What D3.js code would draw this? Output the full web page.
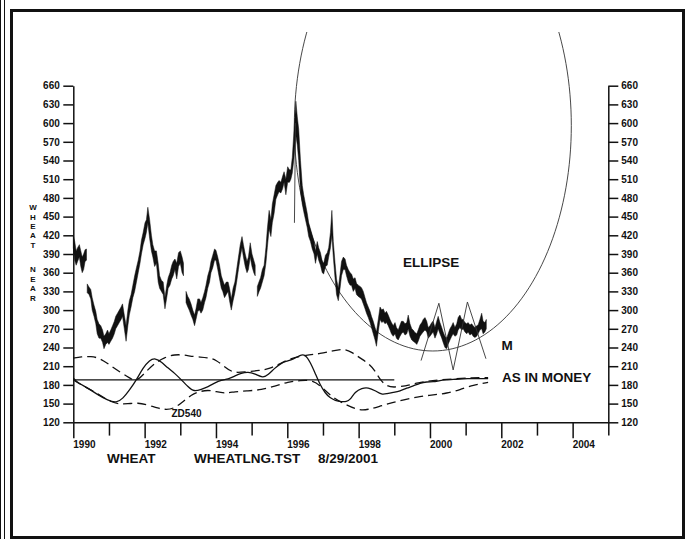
<!DOCTYPE html>
<html><head><meta charset="utf-8">
<script src="https://cdn.jsdelivr.net/npm/d3@7/dist/d3.min.js"></script>
<style>
html,body{margin:0;padding:0;background:#fff;}
svg{display:block;}
text{font-family:"Liberation Sans",Arial,Helvetica,sans-serif;fill:#111;}
</style></head>
<body>
<svg id="chart" width="690" height="539"></svg>
<script>
// ---------- DATA ----------
const yTicks = [120,150,180,210,240,270,300,330,360,390,420,450,480,510,540,570,600,630,660];
const yearTicks = [1990,1991,1992,1993,1994,1995,1996,1997,1998,1999,2000,2001,2002,2003,2004,2005];
const yearLabels = [1990,1992,1994,1996,1998,2000,2002,2004];

// wheat nearby futures, [decimal year, low, high], one array per contract stretch
const wheatSeg1 = [
 [1990.00,400,420],[1990.04,380,410],[1990.08,372,395],[1990.12,378,400],[1990.17,385,405],
 [1990.21,370,395],[1990.25,360,385],[1990.29,365,390],[1990.33,378,397],[1990.37,380,398]
];
const wheatSeg2 = [
 [1990.39,328,342],[1990.44,325,337],[1990.49,318,333],[1990.53,300,320],[1990.58,290,308],
 [1990.63,278,298],[1990.67,262,285],[1990.72,255,278],[1990.77,255,275],[1990.82,248,268],
 [1990.86,238,258],[1990.91,245,262],[1990.96,248,268],[1991.00,245,262],[1991.05,250,268],
 [1991.10,255,275],[1991.15,262,282],[1991.19,270,290],[1991.24,275,295],[1991.29,280,300],
 [1991.34,285,305],[1991.38,290,310],[1991.43,270,292],[1991.48,250,275],[1991.53,275,300],
 [1991.57,292,315],[1991.62,305,325],[1991.67,320,340],[1991.72,330,355],[1991.77,345,368],
 [1991.82,360,380],[1991.87,375,395],[1991.91,390,412],[1991.96,405,425],[1992.01,415,440],
 [1992.05,425,445],[1992.09,440,465],[1992.14,415,445],[1992.19,395,420],[1992.23,385,405],
 [1992.28,370,395],[1992.33,375,395],[1992.38,345,375],[1992.42,335,355],[1992.47,330,348],
 [1992.52,325,345],[1992.57,302,320],[1992.62,320,340],[1992.66,335,352],[1992.71,340,360],
 [1992.76,350,372],[1992.80,355,378],[1992.85,365,382],[1992.90,350,375],[1992.95,370,392],
 [1993.00,375,395],[1993.05,360,385],[1993.09,355,375]
];
const wheatSeg3 = [
 [1993.16,312,330],[1993.21,305,322],[1993.25,300,318],[1993.30,292,310],[1993.35,285,300],
 [1993.40,275,292],[1993.44,285,302],[1993.49,298,318],[1993.54,300,318],[1993.58,295,312],
 [1993.63,300,320],[1993.68,312,330],[1993.72,320,340],[1993.77,335,355],[1993.82,345,365],
 [1993.86,360,378],[1993.91,368,388],[1993.96,380,398],[1994.00,380,396],[1994.05,365,385],
 [1994.10,350,372],[1994.15,335,355],[1994.19,330,348],[1994.24,320,340],[1994.29,325,345],
 [1994.34,330,345],[1994.38,315,335],[1994.43,300,318],[1994.48,315,335],[1994.53,328,345],
 [1994.58,345,365],[1994.63,365,385],[1994.68,385,405],[1994.73,400,418],[1994.77,385,405],
 [1994.82,370,390],[1994.87,360,378],[1994.91,365,385],[1994.96,385,408],[1995.01,370,390],
 [1995.06,360,380],[1995.10,355,372]
];
const wheatSeg4 = [
 [1995.16,322,338],[1995.21,330,346],[1995.25,335,352],[1995.30,345,365],[1995.35,355,372],
 [1995.40,375,400],[1995.44,400,430],[1995.49,430,460],[1995.54,418,445],[1995.58,440,470],
 [1995.63,455,485],[1995.68,478,500],[1995.73,485,505],[1995.77,490,508],[1995.82,488,505],
 [1995.87,495,515],[1995.91,505,522],[1995.96,485,510],[1996.01,505,530],[1996.06,505,525],
 [1996.10,510,525],[1996.14,520,545],[1996.19,545,590],[1996.24,580,635],[1996.28,565,610],
 [1996.32,540,590],[1996.37,490,540],[1996.42,470,500],[1996.46,458,485],[1996.51,445,470],
 [1996.56,432,455],[1996.60,418,440],[1996.65,410,430],[1996.70,398,420],[1996.75,390,410],
 [1996.79,375,395],[1996.84,390,410],[1996.88,380,400],[1996.93,372,392],[1996.98,360,378],
 [1997.02,358,375],[1997.07,370,388],[1997.12,372,392],[1997.16,385,400],[1997.21,400,425],
 [1997.25,420,460],[1997.29,385,410],[1997.34,350,375],[1997.38,325,350],[1997.43,315,335],
 [1997.48,335,358],[1997.52,355,378],[1997.57,365,385],[1997.62,365,382],[1997.66,355,372],
 [1997.71,345,365],[1997.76,340,360],[1997.80,340,358],[1997.85,330,350],[1997.90,335,352],
 [1997.94,325,343],[1997.99,322,340],[1998.04,320,338],[1998.08,318,336],[1998.13,310,330],
 [1998.18,302,320],[1998.22,295,312],[1998.27,288,305],[1998.32,280,298],[1998.36,272,290],
 [1998.41,262,282],[1998.46,252,272],[1998.50,242,265],[1998.55,265,285],[1998.60,285,305],
 [1998.65,280,300],[1998.69,282,302],[1998.74,278,295],[1998.78,280,298],[1998.83,275,292],
 [1998.88,268,285],[1998.92,262,280],[1998.97,258,275],[1999.02,262,280],[1999.06,255,272],
 [1999.11,252,268],[1999.16,258,276],[1999.20,262,282],[1999.25,265,282],[1999.30,260,278],
 [1999.35,262,280],[1999.39,270,292],[1999.44,258,278],[1999.49,252,270],[1999.53,250,268],
 [1999.58,248,264],[1999.63,245,262],[1999.67,250,268],[1999.72,258,276],[1999.77,262,280],
 [1999.81,265,285],[1999.86,268,288],[1999.91,265,282],[1999.95,255,272],[2000.00,258,275],
 [2000.05,262,280],[2000.09,265,282],[2000.14,255,272],[2000.19,262,282],[2000.23,270,290],
 [2000.28,262,280],[2000.33,255,272],[2000.37,248,265],[2000.42,240,258],[2000.47,238,255],
 [2000.51,245,262],[2000.56,252,270],[2000.61,258,275],[2000.65,262,280],[2000.70,258,272],
 [2000.75,260,278],[2000.79,268,288],[2000.84,272,292],[2000.89,268,285],[2000.93,270,285],
 [2000.98,265,280],[2001.03,262,278],[2001.07,265,280],[2001.12,260,276],[2001.17,262,278],
 [2001.21,258,275],[2001.26,256,272],[2001.31,258,275],[2001.35,262,276],[2001.40,268,285],
 [2001.45,270,295],[2001.49,262,282],[2001.54,265,280],[2001.58,270,285]
];
// stray thin tick line below the 1996 peak
const wheatSpike = [[1996.20,440],[1996.23,600]];

// ZD540 oscillator (solid) and its two dashed bands
const oscYears = [1990.00,1990.13,1990.41,1990.69,1990.97,1991.21,1991.39,1991.58,1991.77,1991.95,
 1992.14,1992.30,1992.47,1992.65,1992.84,1993.03,1993.22,1993.38,1993.59,1993.78,1993.96,1994.15,
 1994.34,1994.52,1994.71,1994.90,1995.09,1995.32,1995.46,1995.65,1995.83,1995.98,1996.17,1996.36,
 1996.50,1996.64,1996.78,1996.92,1997.06,1997.20,1997.34,1997.52,1997.66,1997.76,1997.90,1998.09,
 1998.27,1998.46,1998.65,1998.79,1998.97,1999.16,1999.35,1999.53,1999.72,1999.91,2000.09,2000.28,
 2000.47,2000.65,2000.84,2001.03,2001.40,2001.63];
const oscValues = [191,183,175,164,155,151,158,172,188,207,
 220,223,217,207,199,188,177,169,173,177,183,188,
 189,194,199,201,198,191,196,207,215,218,221,228,
 229,217,199,180,167,159,155,153,153,156,169,175,
 176,171,164,166,168,170,175,178,183,185,185,187,
 188,189,189.5,190,190,190];

const upperYears = [1990.00,1990.22,1990.50,1990.74,1991.02,1991.30,1991.58,1991.77,1992.00,1992.28,
 1992.56,1992.84,1993.12,1993.40,1993.78,1994.01,1994.24,1994.48,1994.81,1995.23,1995.51,1995.79,
 1996.07,1996.54,1996.92,1997.29,1997.57,1997.80,1998.04,1998.27,1998.46,1998.60,1998.79,1998.97,
 1999.30,1999.67,2000.05,2000.61,2001.17,2001.63];
const upperValues = [223,225,226,223,212,201,191,185,199,215,
 224,229,228,225,224,220,209,199,201,203,206,214,
 222,228,230,235,238,233,223,215,203,188,178,176,
 178,183.5,187,189.5,191.5,191.5];

const lowerYears = [1990.00,1990.22,1990.60,1990.88,1991.06,1991.25,1991.53,1991.81,1992.09,1992.37,
 1992.61,1992.84,1993.07,1993.31,1993.50,1993.78,1994.01,1994.24,1994.52,1994.90,1995.27,1995.65,
 1996.02,1996.36,1996.72,1997.01,1997.29,1997.66,1997.98,1998.26,1998.60,1998.94,1999.33,1999.72,
 2000.09,2000.47,2000.84,2001.21,2001.63];
const lowerValues = [188,180,169,158.5,153,149.5,149.5,151.5,148,142.5,
 140,142.5,153,164,169,172,169,166.5,169,170.5,172,178,
 185,187,188,174.5,158.5,148,139.5,140,146,151.5,157,161.5,
 164,166.5,172,180,184];

const zeroLevel = {value:188, from:1990, to:1999.0};

// "M" pattern and ellipse annotations (data units)
const mPattern = [[1999.75,219],[2000.25,311],[2000.65,204],[2001.05,313],[2001.57,222]];
const ellipseSpec = {cx:2000.08, cy:596, rx:3.883, ry:361.6};

// vertical axis title letters and their line steps
const yTitle = ["W","H","E","A","T","N","E","A","R"];
const yTitleSteps = [0,9.4,9.4,9.4,9.4,24.5,9.4,9.4,9.8];

// ---------- CHART ----------
const svg = d3.select("#chart");
const x = d3.scaleLinear().domain([1990,2005]).range([73.3,608.3]);
const y = d3.scaleLinear().domain([120,660]).range([422.3,85.7]);
const ink = "#111";

// frame
svg.append("rect").attr("x",11.5).attr("y",10.5).attr("width",672).attr("height",527)
  .attr("fill","none").attr("stroke",ink).attr("stroke-width",3);
svg.append("line").attr("x1",0.5).attr("x2",0.5).attr("y1",0).attr("y2",539).attr("stroke",ink).attr("stroke-width",1);
svg.append("line").attr("x1",4.5).attr("x2",4.5).attr("y1",0).attr("y2",539).attr("stroke",ink).attr("stroke-width",1);

// clip for ellipse
svg.append("clipPath").attr("id","clipE").append("rect")
  .attr("x",14).attr("y",32).attr("width",666).attr("height",500);

// axes
const axL = svg.append("g").attr("transform",`translate(${x(1990)},0)`)
  .call(d3.axisLeft(y).tickValues(yTicks).tickSize(10).tickSizeOuter(0).tickPadding(3.5));
const axR = svg.append("g").attr("transform",`translate(${x(2005)},0)`)
  .call(d3.axisRight(y).tickValues(yTicks).tickSize(10).tickSizeOuter(0).tickPadding(3));
[axL,axR].forEach(g=>{
  g.selectAll("path,line").attr("stroke",ink).attr("stroke-width",1.5);
  g.selectAll("text").attr("font-size","10px").attr("font-weight","bold")
   .attr("font-family","'Liberation Sans',Arial,sans-serif").attr("fill",ink);
});

const axB = svg.append("g").attr("transform",`translate(0,${y(120)})`)
  .call(d3.axisBottom(x).tickValues(yearTicks).tickSize(13.3).tickSizeOuter(0).tickFormat(""));
axB.selectAll("path,line").attr("stroke",ink).attr("stroke-width",1.5);
axB.selectAll(".tick line").filter(d=>d%2===0).attr("y2",16);

svg.append("g").selectAll("text").data(yearLabels).join("text")
  .attr("x",d=>x(d)).attr("y",448).attr("font-size","10px").attr("font-weight","bold")
  .attr("text-anchor","start").text(d=>d);

// ellipse
const ep = d3.range(0,361,2).map(a=>{
  const r=a*Math.PI/180;
  return [ellipseSpec.cx+ellipseSpec.rx*Math.cos(r), ellipseSpec.cy+ellipseSpec.ry*Math.sin(r)];
});
svg.append("path").attr("clip-path","url(#clipE)")
  .attr("d",d3.line().x(d=>x(d[0])).y(d=>y(d[1])).curve(d3.curveLinearClosed)(ep))
  .attr("fill","none").attr("stroke","#333").attr("stroke-width",0.9);

// price band
const area = d3.area().x(d=>x(d[0])).y0(d=>y(d[1])).y1(d=>y(d[2]));
[wheatSeg1,wheatSeg2,wheatSeg3,wheatSeg4].forEach(seg=>{
  svg.append("path").attr("d",area(seg)).attr("fill",ink).attr("stroke",ink).attr("stroke-width",0.5)
    .attr("stroke-linejoin","miter");
});
svg.append("path").attr("d",d3.line().x(d=>x(d[0])).y(d=>y(d[1]))(wheatSpike))
  .attr("fill","none").attr("stroke","#333").attr("stroke-width",0.9);

// M pattern
svg.append("path").attr("d",d3.line().x(d=>x(d[0])).y(d=>y(d[1]))(mPattern))
  .attr("fill","none").attr("stroke","#333").attr("stroke-width",0.9);

// zero level
svg.append("line").attr("x1",x(zeroLevel.from)).attr("x2",x(zeroLevel.to))
  .attr("y1",y(zeroLevel.value)).attr("y2",y(zeroLevel.value))
  .attr("stroke",ink).attr("stroke-width",1.3);

const lineXY = d3.line().x(d=>x(d[0])).y(d=>y(d[1])).curve(d3.curveBasis);
const osc = oscYears.map((t,i)=>[t,oscValues[i]]);
const up = upperYears.map((t,i)=>[t,upperValues[i]]);
const lo = lowerYears.map((t,i)=>[t,lowerValues[i]]);
svg.append("path").attr("d",lineXY(up)).attr("fill","none").attr("stroke",ink)
  .attr("stroke-width",1.3).attr("stroke-dasharray","9,5");
svg.append("path").attr("d",lineXY(lo)).attr("fill","none").attr("stroke",ink)
  .attr("stroke-width",1.3).attr("stroke-dasharray","9,5");
svg.append("path").attr("d",lineXY(osc)).attr("fill","none").attr("stroke",ink)
  .attr("stroke-width",1.3);

// texts
const txt=(s,xx,yy,fs)=>svg.append("text").attr("x",xx).attr("y",yy)
  .attr("font-size",fs+"px").attr("font-weight","bold").text(s);
txt("WHEAT",107,463,13.5);
txt("WHEATLNG.TST",194,463,13.5);
txt("8/29/2001",318,463,13.5);
txt("ELLIPSE",403,267,13.5);
txt("M",501.5,350,13.5);
txt("AS IN MONEY",502,382,13.5);
txt("ZD540",171.5,416.5,10);

// vertical axis title, stacked letter by letter (small font so letters do not collide)
const yt = svg.append("text").attr("x",33).attr("y",210.2).attr("text-anchor","middle")
  .attr("font-size","8px").attr("font-weight","bold");
yt.selectAll("tspan").data(yTitle).join("tspan")
  .attr("x",33).attr("dy",(d,i)=>yTitleSteps[i]).text(d=>d);
</script>
</body></html>
